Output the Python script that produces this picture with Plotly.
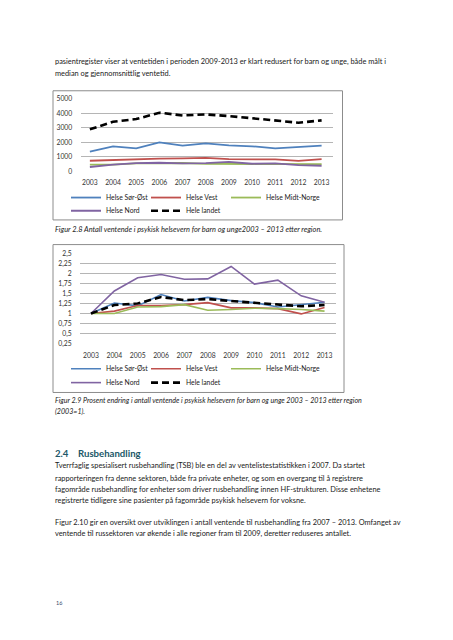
import plotly.graph_objects as go

W, H = 453, 640

years = [2003, 2004, 2005, 2006, 2007, 2008, 2009, 2010, 2011, 2012, 2013]
series_names = ["Helse Sør-Øst", "Helse Vest", "Helse Midt-Norge", "Helse Nord", "Hele landet"]

# Figur 2.8 – antall ventende
sor_ost = [1360, 1730, 1590, 2000, 1770, 1930, 1800, 1730, 1590, 1680, 1770]
vest = [730, 780, 880, 880, 890, 930, 840, 840, 820, 720, 840]
midt = [470, 470, 545, 550, 575, 510, 515, 530, 525, 515, 500]
nord = [300, 465, 570, 594, 555, 561, 657, 522, 549, 432, 384]
landet = [2900, 3430, 3610, 4050, 3860, 3930, 3820, 3680, 3545, 3360, 3520]

# Figur 2.9 – indeks (2003=1)
sor_ost_idx = [1, 1.26, 1.19, 1.47, 1.31, 1.40, 1.32, 1.27, 1.16, 1.22, 1.28]
vest_idx = [1, 1.06, 1.20, 1.20, 1.22, 1.27, 1.14, 1.14, 1.12, 0.99, 1.15]
midt_idx = [1, 1.00, 1.16, 1.17, 1.22, 1.08, 1.10, 1.13, 1.12, 1.10, 1.06]
nord_idx = [1, 1.56, 1.89, 1.97, 1.85, 1.86, 2.17, 1.73, 1.83, 1.44, 1.28]
landet_idx = [1, 1.21, 1.25, 1.41, 1.33, 1.36, 1.31, 1.27, 1.22, 1.18, 1.21]

y1_ticks = [0, 1000, 2000, 3000, 4000, 5000]
y1_ticktext = ["0", "1000", "2000", "3000", "4000", "5000"]
y2_ticks = [0.25, 0.5, 0.75, 1, 1.25, 1.5, 1.75, 2, 2.25, 2.5]
y2_ticktext = ["0,25", "0,5", "0,75", "1", "1,25", "1,5", "1,75", "2", "2,25", "2,5"]

colors = ["#4F81BD", "#C0504D", "#9BBB59", "#8064A2", "#000000"]

top_text = [
    "pasientregister viser at ventetiden i perioden 2009-2013 er klart redusert for barn og unge, både målt i",
    "median og gjennomsnittlig ventetid.",
]
caption1 = "Figur 2.8 Antall ventende i psykisk helsevern for barn og unge2003 – 2013 etter region."
caption2 = [
    "Figur 2.9 Prosent endring i antall ventende i psykisk helsevern for barn og unge 2003 – 2013 etter region",
    "(2003=1).",
]
heading_num = "2.4"
heading_txt = "Rusbehandling"
body = [
    "Tverrfaglig spesialisert rusbehandling (TSB) ble en del av ventelistestatistikken i 2007. Da startet",
    "rapporteringen fra denne sektoren, både fra private enheter, og som en overgang til å registrere",
    "fagområde rusbehandling for enheter som driver rusbehandling innen HF-strukturen. Disse enhetene",
    "registrerte tidligere sine pasienter på fagområde psykisk helsevern for voksne.",
    "Figur 2.10 gir en oversikt over utviklingen i antall ventende til rusbehandling fra 2007 – 2013. Omfanget av",
    "ventende til russektoren var økende i alle regioner fram til 2009, deretter reduseres antallet.",
]
page_no = "16"

FONT = "Lato"
TXT = "#1a1a1a"

def px(x):
    return x / W

def py(y):
    return 1 - y / H

fig = go.Figure()

chart1 = [sor_ost, vest, midt, nord, landet]
chart2 = [sor_ost_idx, vest_idx, midt_idx, nord_idx, landet_idx]
legends1 = ["legend", "legend", "legend", "legend2", "legend2"]
legends2 = ["legend3", "legend3", "legend3", "legend4", "legend4"]
entry_w = [35, 35, 90, 35, 90]

for i, name in enumerate(series_names):
    dashed = i == 4
    fig.add_trace(go.Scatter(
        x=years, y=chart1[i], name=name, mode="lines",
        line=dict(color=colors[i], width=2.6 if dashed else 1.8, dash="7px,4px" if dashed else "solid"),
        xaxis="x", yaxis="y", legend=legends1[i], legendwidth=entry_w[i], hoverinfo="skip",
    ))
for i, name in enumerate(series_names):
    dashed = i == 4
    fig.add_trace(go.Scatter(
        x=years, y=chart2[i], name=name, mode="lines",
        line=dict(color=colors[i], width=2.6 if dashed else 1.6, dash="7px,4px" if dashed else "solid"),
        xaxis="x2", yaxis="y2", legend=legends2[i], legendwidth=entry_w[i], hoverinfo="skip",
    ))

axis_font = dict(family=FONT, size=6.8, color="#333333")
grid = "#B5B5B5"

fig.update_layout(
    width=W, height=H, margin=dict(l=0, r=0, t=0, b=0),
    paper_bgcolor="white", plot_bgcolor="rgba(0,0,0,0)",
    font=dict(family=FONT, color=TXT),
    xaxis=dict(domain=[px(80.6), px(333.2)], range=[2002.6, 2013.5], tickvals=years, anchor="y",
               showgrid=False, zeroline=False, showline=False, ticks="outside", ticklen=5,
               tickcolor="rgba(0,0,0,0)", tickfont=axis_font, tickangle=0, fixedrange=True),
    yaxis=dict(domain=[py(168.7), py(95.3)], range=[0, 5000], tickvals=y1_ticks, ticktext=y1_ticktext,
               anchor="x", showgrid=True, gridcolor=grid, gridwidth=1, zeroline=False, showline=False,
               ticks="outside", ticklen=6, tickcolor="rgba(0,0,0,0)", tickfont=axis_font, fixedrange=True),
    xaxis2=dict(domain=[px(80), px(336)], range=[2002.53, 2013.49], tickvals=years, anchor="y2",
                showgrid=False, zeroline=False, showline=False, ticks="outside", ticklen=5,
                tickcolor="rgba(0,0,0,0)", tickfont=axis_font, tickangle=0, fixedrange=True),
    yaxis2=dict(domain=[py(343.5), py(251.7)], range=[0.25, 2.5], tickvals=y2_ticks, ticktext=y2_ticktext,
                anchor="x2", showgrid=True, gridcolor=grid, gridwidth=1, zeroline=False, showline=False,
                ticks="outside", ticklen=6, tickcolor="rgba(0,0,0,0)", tickfont=axis_font, fixedrange=True),
)

leg_common = dict(orientation="h", xanchor="left", yanchor="middle", bgcolor="rgba(0,0,0,0)",
                  borderwidth=0, itemclick=False, itemdoubleclick=False,
                  font=dict(family=FONT, size=6.8, color=TXT), tracegroupgap=0)
LX = 66
fig.update_layout(
    legend=dict(x=px(LX), y=py(195.3), **leg_common),
    legend2=dict(x=px(LX), y=py(208.7), **leg_common),
    legend3=dict(x=px(LX), y=py(369), **leg_common),
    legend4=dict(x=px(LX), y=py(383), **leg_common),
)

shapes = [
    dict(type="rect", xref="paper", yref="paper", x0=px(53), x1=px(342.5), y0=py(218), y1=py(87),
         line=dict(color="#8C8C8C", width=1), fillcolor="rgba(0,0,0,0)", layer="below"),
    dict(type="rect", xref="paper", yref="paper", x0=px(53), x1=px(344), y0=py(393), y1=py(243),
         line=dict(color="#8C8C8C", width=1), fillcolor="rgba(0,0,0,0)", layer="below"),
]
fig.update_layout(shapes=shapes)

BODY = 7.4
ann = []
def text(x, y, s, size=BODY, color=TXT, italic=False, bold=False):
    if italic:
        s = "<i>" + s + "</i>"
    if bold:
        s = "<b>" + s + "</b>"
    ann.append(dict(x=px(x), y=py(y), xref="paper", yref="paper", text=s, showarrow=False,
                    xanchor="left", yanchor="middle", font=dict(family=FONT, size=size, color=color)))

text(53, 57.5, top_text[0])
text(53, 69.5, top_text[1])
text(53, 228, caption1, italic=True)
text(53, 401, caption2[0], italic=True, size=7.1)
text(53, 412.5, caption2[1], italic=True, size=7.1)
HC = "#215868"
text(53, 454.5, heading_num, size=9.6, color=HC, bold=True)
text(76, 454.5, heading_txt, size=9.6, color=HC, bold=True)
for s, y in zip(body, [467.5, 480, 491.5, 503, 525, 536.5]):
    text(53, y, s)
text(53.5, 607, page_no, size=5.5, color="#3b4a6b")
fig.update_layout(annotations=ann)

fig.write_html("out.html", config=dict(displayModeBar=False, staticPlot=True),
               post_script="document.body.style.margin='0px';document.body.style.overflow='hidden';")
